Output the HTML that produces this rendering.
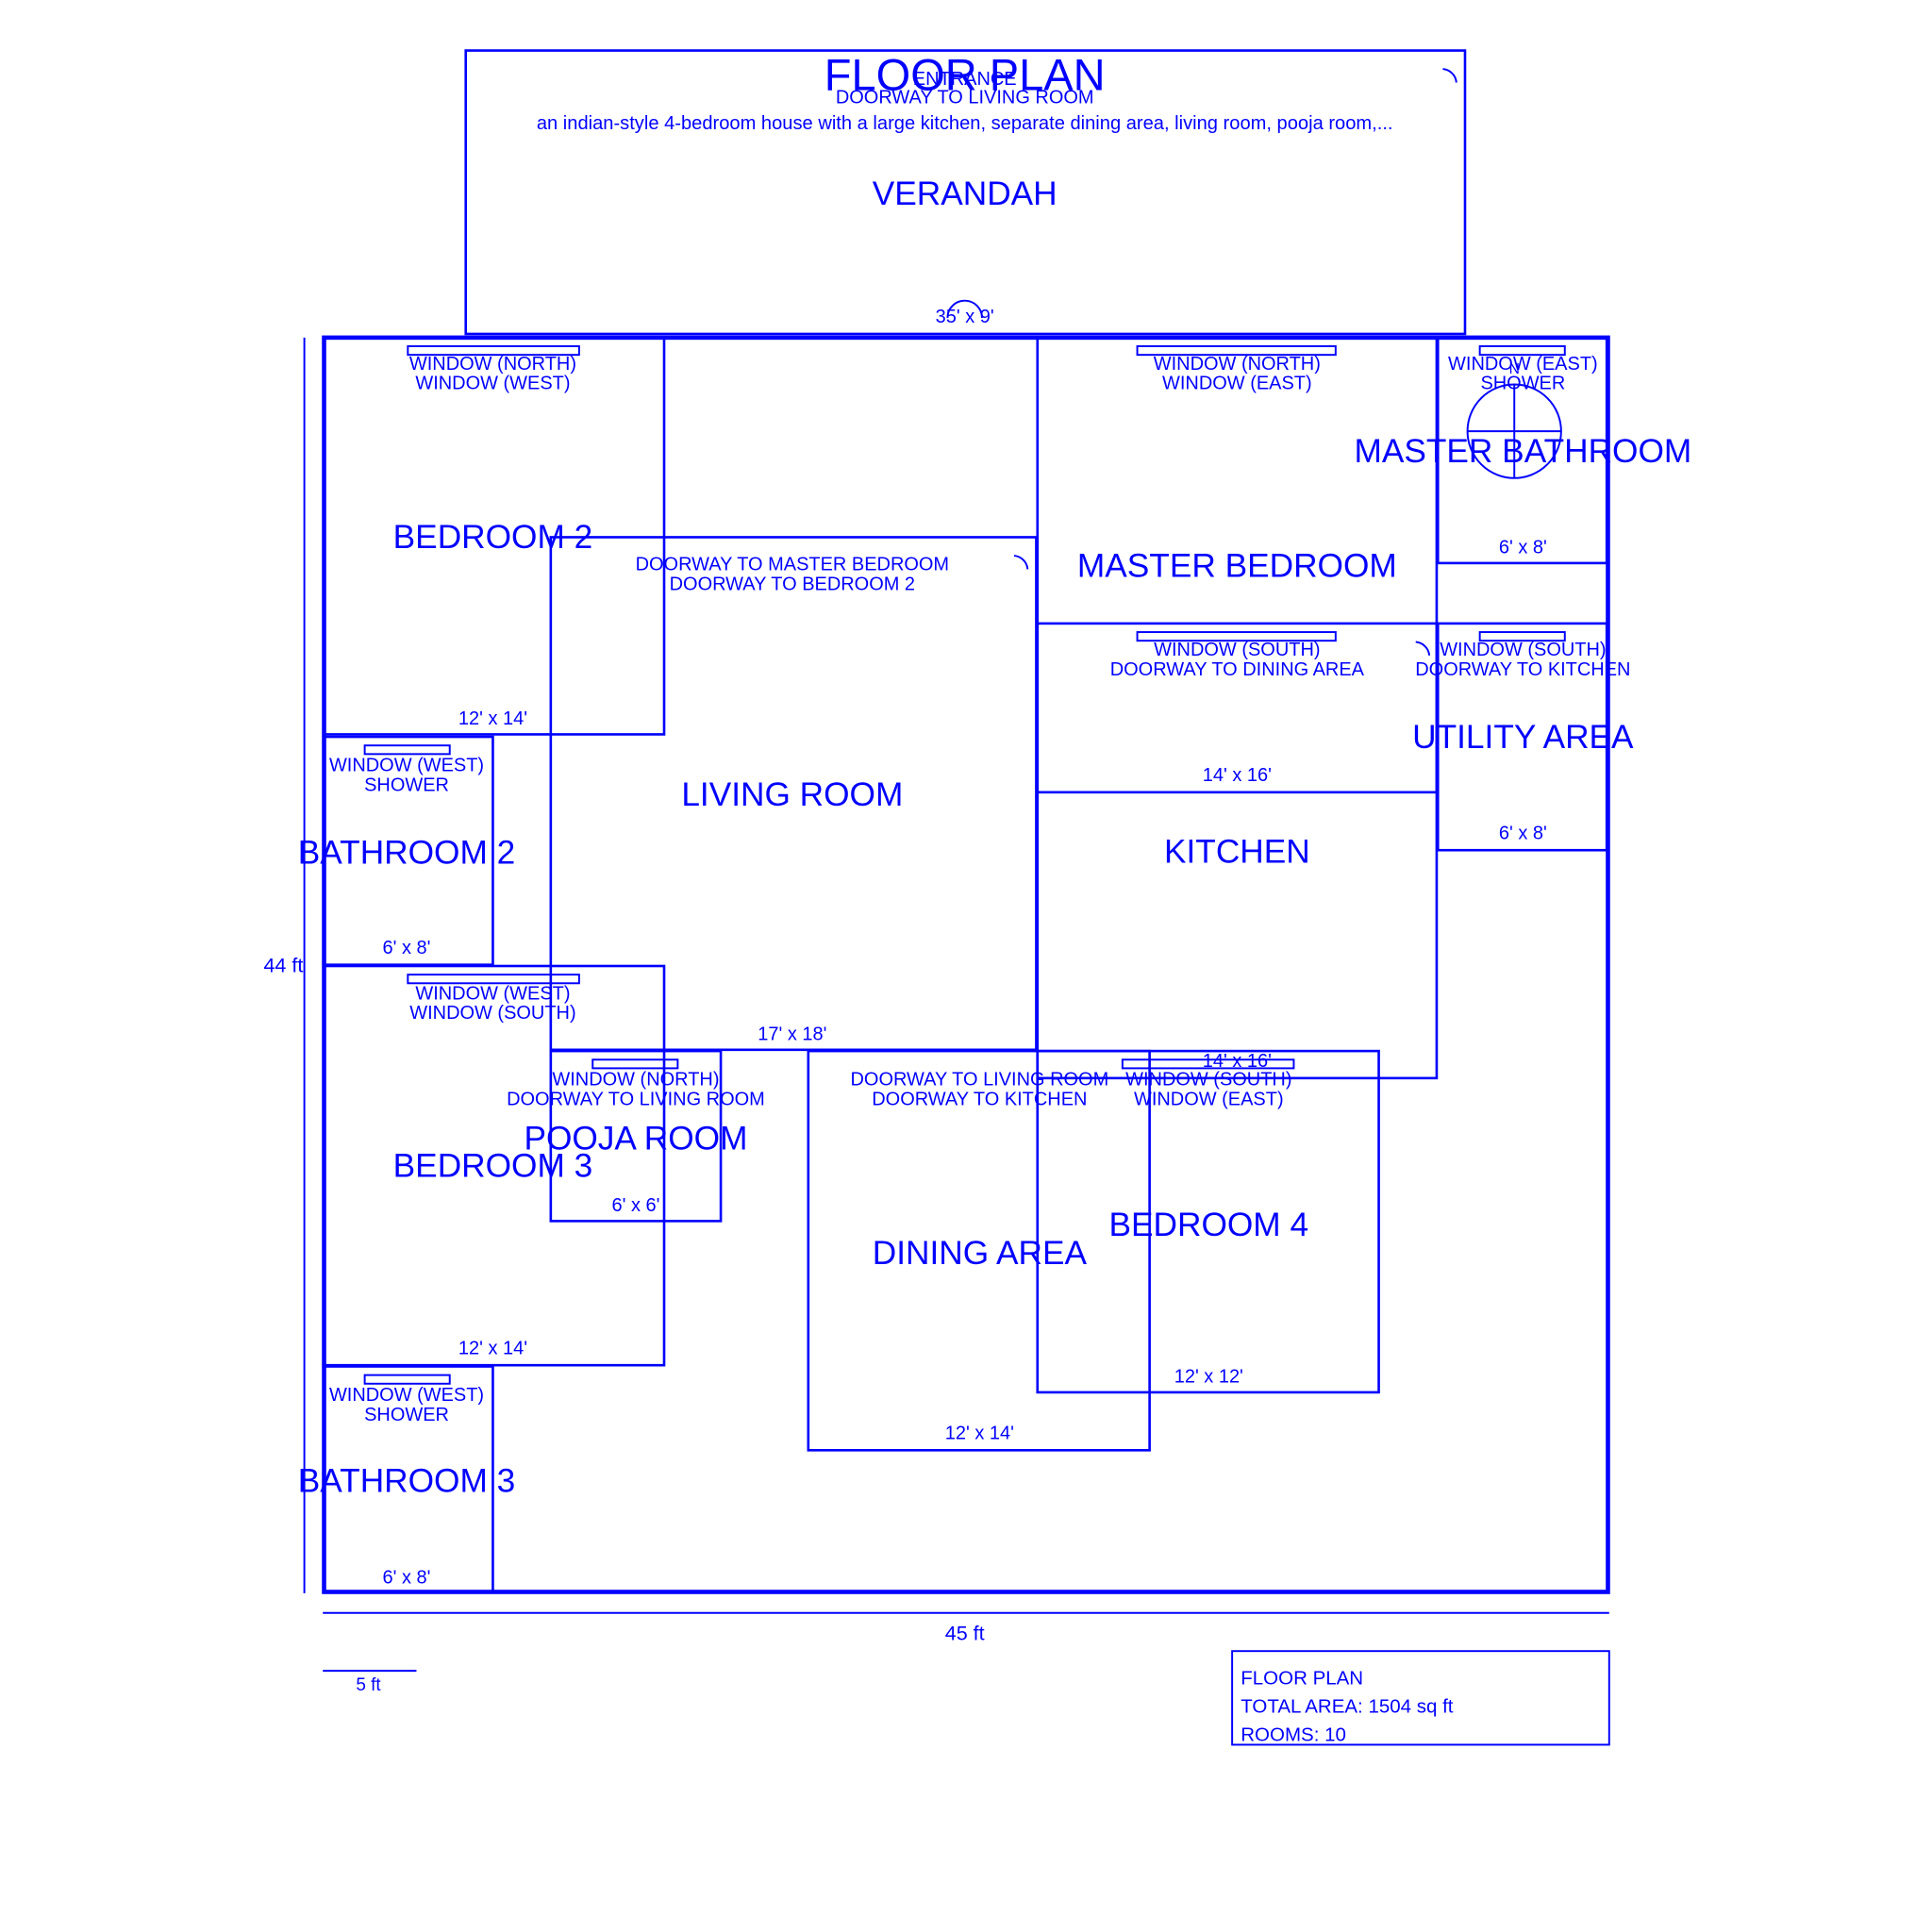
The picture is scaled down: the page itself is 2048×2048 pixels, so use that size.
<!DOCTYPE html>
<html><head><meta charset="utf-8"><style>
html,body{margin:0;padding:0;background:#fff;}
svg{display:block;}
text{font-family:"Liberation Sans",Arial,sans-serif;fill:#0000ff;}
.s{font-size:15.3px;}
</style></head><body>
<svg width="2048" height="2048" viewBox="0 0 1568 1568" xmlns="http://www.w3.org/2000/svg">
<g fill="none" stroke="#0000ff">
<rect x="378" y="41" width="811" height="230" stroke-width="2"/>
<rect x="263" y="274" width="1042" height="1018" stroke-width="3.5"/>
<g stroke-width="2">
<rect x="263" y="274" width="276" height="322"/>
<rect x="447" y="436" width="394" height="416"/>
<rect x="842" y="274" width="324" height="369"/>
<rect x="842" y="506" width="324" height="369"/>
<rect x="1167" y="274" width="137" height="183"/>
<rect x="1167" y="506" width="137" height="184"/>
<rect x="263" y="598" width="137" height="185"/>
<rect x="263" y="784" width="276" height="324"/>
<rect x="447" y="853" width="138" height="138"/>
<rect x="656" y="853" width="277" height="324"/>
<rect x="842" y="853" width="277" height="277"/>
<rect x="263" y="1109" width="137" height="183"/>
</g>
<g stroke-width="1.5">
<rect x="331" y="281" width="139" height="7"/>
<rect x="923" y="281" width="161" height="7"/>
<rect x="1201" y="281" width="69" height="7"/>
<rect x="923" y="513" width="161" height="7"/>
<rect x="1201" y="513" width="69" height="7"/>
<rect x="296" y="605" width="69" height="7"/>
<rect x="331" y="791" width="139" height="7"/>
<rect x="481" y="860" width="69" height="7"/>
<rect x="911" y="860" width="139" height="7"/>
<rect x="296" y="1116" width="69" height="7"/>
<ellipse cx="1229" cy="350" rx="38" ry="38"/>
<line x1="1229" y1="312" x2="1229" y2="388"/>
<line x1="1191" y1="350" x2="1267" y2="350"/>
<path d="M769 258 A14 14 0 0 1 797 258"/>
<path d="M1171 56 A12 12 0 0 1 1182 67"/>
<path d="M823 451 A12 12 0 0 1 834 462"/>
<path d="M1149 521 A12 12 0 0 1 1160 532"/>
<line x1="247" y1="274" x2="247" y2="1293"/>
<line x1="262" y1="1309" x2="1306" y2="1309"/>
<line x1="262" y1="1356" x2="338" y2="1356"/>
<rect x="1000" y="1340" width="306" height="76"/>
</g>
</g>
<g text-anchor="middle">
<text x="783" y="73" font-size="36">FLOOR PLAN</text>
<text class="s" x="783" y="69">ENTRANCE</text>
<text class="s" x="783" y="84">DOORWAY TO LIVING ROOM</text>
<text x="783" y="105" font-size="15.4">an indian-style 4-bedroom house with a large kitchen, separate dining area, living room, pooja room,...</text>
<text x="783" y="166" font-size="27">VERANDAH</text>
<text class="s" x="783" y="262">35' x 9'</text>

<text class="s" x="400" y="300">WINDOW (NORTH)</text>
<text class="s" x="400" y="316">WINDOW (WEST)</text>
<text x="400" y="445" font-size="27">BEDROOM 2</text>
<text class="s" x="400" y="588">12' x 14'</text>

<text class="s" x="1004" y="300">WINDOW (NORTH)</text>
<text class="s" x="1004" y="316">WINDOW (EAST)</text>
<text x="1004" y="468" font-size="27">MASTER BEDROOM</text>
<text class="s" x="1004" y="634">14' x 16'</text>

<text class="s" x="1236" y="300">WINDOW (EAST)</text>
<text class="s" x="1236" y="316">SHOWER</text>
<text x="1229" y="303" font-size="12">N</text>
<text x="1236" y="375" font-size="27">MASTER BATHROOM</text>
<text class="s" x="1236" y="449">6' x 8'</text>

<text class="s" x="643" y="463">DOORWAY TO MASTER BEDROOM</text>
<text class="s" x="643" y="479">DOORWAY TO BEDROOM 2</text>
<text x="643" y="654" font-size="27">LIVING ROOM</text>
<text class="s" x="643" y="844">17' x 18'</text>

<text class="s" x="1004" y="532">WINDOW (SOUTH)</text>
<text class="s" x="1004" y="548">DOORWAY TO DINING AREA</text>
<text x="1004" y="700" font-size="27">KITCHEN</text>
<text class="s" x="1004" y="866">14' x 16'</text>

<text class="s" x="1236" y="532">WINDOW (SOUTH)</text>
<text class="s" x="1236" y="548">DOORWAY TO KITCHEN</text>
<text x="1236" y="607" font-size="27">UTILITY AREA</text>
<text class="s" x="1236" y="681">6' x 8'</text>

<text class="s" x="330" y="626">WINDOW (WEST)</text>
<text class="s" x="330" y="642">SHOWER</text>
<text x="330" y="701" font-size="27">BATHROOM 2</text>
<text class="s" x="330" y="774">6' x 8'</text>

<text class="s" x="400" y="811">WINDOW (WEST)</text>
<text class="s" x="400" y="827">WINDOW (SOUTH)</text>
<text x="400" y="955" font-size="27">BEDROOM 3</text>
<text class="s" x="400" y="1099">12' x 14'</text>

<text class="s" x="516" y="881">WINDOW (NORTH)</text>
<text class="s" x="516" y="897">DOORWAY TO LIVING ROOM</text>
<text x="516" y="933" font-size="27">POOJA ROOM</text>
<text class="s" x="516" y="983">6' x 6'</text>

<text class="s" x="795" y="881">DOORWAY TO LIVING ROOM</text>
<text class="s" x="795" y="897">DOORWAY TO KITCHEN</text>
<text x="795" y="1026" font-size="27">DINING AREA</text>
<text class="s" x="795" y="1168">12' x 14'</text>

<text class="s" x="981" y="881">WINDOW (SOUTH)</text>
<text class="s" x="981" y="897">WINDOW (EAST)</text>
<text x="981" y="1003" font-size="27">BEDROOM 4</text>
<text class="s" x="981" y="1122">12' x 12'</text>

<text class="s" x="330" y="1137">WINDOW (WEST)</text>
<text class="s" x="330" y="1153">SHOWER</text>
<text x="330" y="1211" font-size="27">BATHROOM 3</text>
<text class="s" x="330" y="1285">6' x 8'</text>

<text x="230" y="789" font-size="16.5">44 ft</text>
<text x="783" y="1331" font-size="16.5">45 ft</text>
<text x="299" y="1372" font-size="14.5">5 ft</text>
</g>
<g font-size="15.7">
<text x="1007" y="1367">FLOOR PLAN</text>
<text x="1007" y="1390">TOTAL AREA: 1504 sq ft</text>
<text x="1007" y="1413">ROOMS: 10</text>
</g>
</svg>
</body></html>
